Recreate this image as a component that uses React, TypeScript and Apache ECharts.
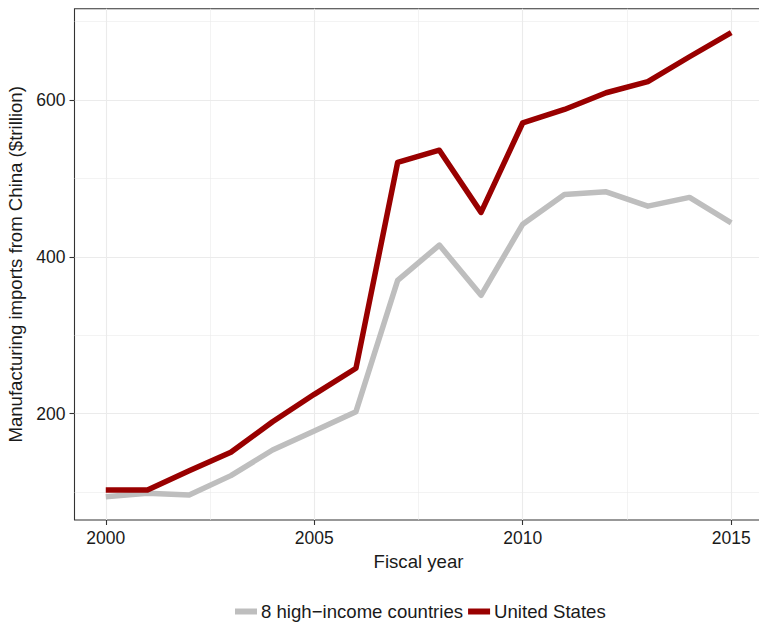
import React, { useEffect, useRef } from "react";
import * as echarts from "echarts";

const years = [2000, 2001, 2002, 2003, 2004, 2005, 2006, 2007, 2008, 2009, 2010, 2011, 2012, 2013, 2014, 2015];
const highIncome = [94, 98.5, 96.3, 121, 153.7, 177.9, 202.6, 370, 415, 351, 441.7, 479.6, 483, 464.7, 475.8, 443.4];
const unitedStates = [102.7, 102.7, 127.3, 150.8, 189.8, 224.7, 257.9, 520.5, 536, 456.7, 571, 588, 609.3, 623.4, 655.2, 685.9];
const seriesNames = ["8 high\u2212income countries", "United States"];
const xTicks = [2000, 2005, 2010, 2015];
const xMinor = [2002.5, 2007.5, 2012.5];
const yTicks = [200, 400, 600];
const yMinor = [100, 300, 500, 700];

const FONT = '"Liberation Sans", Arial, Helvetica, sans-serif';
const X_MIN = 1999.25;
const X_MAX = 2015.75;
const Y_MIN = 64.4;
const Y_MAX = 716.5;

export default function App() {
  const ref = useRef<HTMLDivElement>(null);
  useEffect(() => {
    document.body.style.margin = "0";
    const chart = echarts.init(ref.current!, null, { renderer: "svg" });
    const gridLine = { show: true, lineStyle: { color: "#EBEBEB", width: 1.1 } };
    const minorLine = { show: true, lineStyle: { color: "#EBEBEB", width: 0.6 } };
    chart.setOption({
      animation: false,
      backgroundColor: "#ffffff",
      textStyle: { fontFamily: FONT },
      grid: {
        left: 74.5,
        top: 8.7,
        width: 688,
        height: 511.3,
        show: true,
        borderColor: "#333333",
        borderWidth: 1.1,
        backgroundColor: "#ffffff",
        containLabel: false,
        outerBoundsMode: "none",
      },
      legend: {
        left: 235,
        top: 602,
        padding: 0,
        itemGap: 5,
        itemWidth: 22,
        itemHeight: 6,
        icon: "rect",
        data: seriesNames,
        textStyle: { fontFamily: FONT, fontSize: 18.6, color: "#1a1a1a", padding: [0, 0, 0, -1] },
      },
      xAxis: [
        {
          type: "value",
          min: X_MIN,
          max: X_MAX,
          name: "Fiscal year",
          nameLocation: "middle",
          nameGap: 28,
          nameTextStyle: { fontFamily: FONT, fontSize: 18.6, color: "#1a1a1a" },
          axisLine: { show: false },
          axisTick: { show: true, customValues: xTicks, length: 5, lineStyle: { color: "#333333", width: 1.1 } },
          axisLabel: {
            show: true,
            customValues: xTicks,
            margin: 9,
            fontFamily: FONT,
            fontSize: 17.5,
            color: "#1a1a1a",
            formatter: (v: number) => String(v),
          },
          splitLine: gridLine,
        },
        {
          type: "value",
          min: X_MIN,
          max: X_MAX,
          position: "bottom",
          axisLine: { show: false },
          axisTick: { show: false, customValues: xMinor },
          axisLabel: { show: false, customValues: xMinor },
          splitLine: minorLine,
        },
      ],
      yAxis: [
        {
          type: "value",
          min: Y_MIN,
          max: Y_MAX,
          name: "Manufacturing imports from China ($trillion)",
          nameLocation: "middle",
          nameGap: 42,
          nameRotate: 90,
          nameTextStyle: { fontFamily: FONT, fontSize: 18.6, color: "#1a1a1a" },
          axisLine: { show: false },
          axisTick: { show: true, customValues: yTicks, length: 5, lineStyle: { color: "#333333", width: 1.1 } },
          axisLabel: {
            show: true,
            customValues: yTicks,
            margin: 9,
            fontFamily: FONT,
            fontSize: 17.5,
            color: "#1a1a1a",
            formatter: (v: number) => String(v),
          },
          splitLine: gridLine,
        },
        {
          type: "value",
          min: Y_MIN,
          max: Y_MAX,
          position: "left",
          axisLine: { show: false },
          axisTick: { show: false, customValues: yMinor },
          axisLabel: { show: false, customValues: yMinor },
          splitLine: minorLine,
        },
      ],
      series: [
        {
          name: seriesNames[0],
          type: "line",
          xAxisIndex: 0,
          yAxisIndex: 0,
          showSymbol: false,
          symbol: "none",
          color: "#BEBEBE",
          lineStyle: { color: "#BEBEBE", width: 5.5, cap: "butt", join: "round" },
          data: years.map((y, i) => [y, highIncome[i]]),
        },
        {
          name: seriesNames[1],
          type: "line",
          xAxisIndex: 0,
          yAxisIndex: 0,
          showSymbol: false,
          symbol: "none",
          color: "#990000",
          lineStyle: { color: "#990000", width: 5.5, cap: "butt", join: "round" },
          data: years.map((y, i) => [y, unitedStates[i]]),
        },
      ],
    });
    return () => chart.dispose();
  }, []);
  return <div ref={ref} style={{ width: 759, height: 624 }} />;
}
